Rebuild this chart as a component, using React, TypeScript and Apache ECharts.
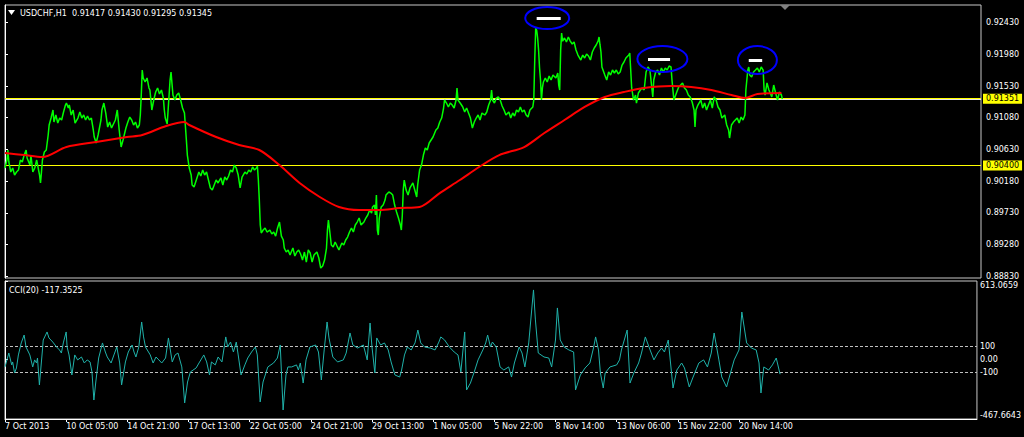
import React, { useEffect, useRef } from 'react';
import * as echarts from 'echarts';

// ---------- texts ----------
const symbolName = 'USDCHF,H1';
const ohlcValues = ['0.91417', '0.91430', '0.91295', '0.91345'];
const cciTitle = 'CCI(20) -117.3525';

// ---------- axes ----------
const timeTickBars = [0, 64, 128, 192, 256, 320, 384, 448, 512, 576, 640, 704, 768];
const timeTickLabels = ['7 Oct 2013', '10 Oct 05:00', '14 Oct 21:00', '17 Oct 13:00', '22 Oct 05:00', '24 Oct 21:00', '29 Oct 13:00', '1 Nov 05:00', '5 Nov 22:00', '8 Nov 14:00', '13 Nov 06:00', '15 Nov 22:00', '20 Nov 14:00'];
const barRange = [0, 1017];
const priceRange = [0.88803, 0.92682];
const priceTicks = [0.8883, 0.8928, 0.8973, 0.9018, 0.9063, 0.9108, 0.9153, 0.9198, 0.9243];
const cciRange = [-467.6643, 613.0659];
const cciTicks = [-467.6643, -100, 0, 100, 613.0659];
const cciTickLabels = ['-467.6643', '-100', '0.00', '100', '613.0659'];

// ---------- levels ----------
const yellowLevels = [0.91351, 0.904];
const bidPrice = 0.91345;
const cciLevels = [100, -100];

// ---------- series: [bar index, close] ----------
const closes: [number, number][] = [
  [0,0.90366],[2,0.90479],[3,0.90622],[4,0.90451],[6,0.90309],[8,0.90366],[10,0.90266],[12,0.90309],[14,0.90337],[16,0.90479],[18,0.90451],[20,0.90550],[22,0.90622],[23,0.90508],[26,0.90408],[27,0.90550],[29,0.90309],[31,0.90366],[33,0.90479],[35,0.90337],[36,0.90266],[37,0.90153],[38,0.90309],[39,0.90479],[41,0.90593],[43,0.90622],[45,0.90835],[46,0.90977],[48,0.91076],[50,0.91190],[51,0.91019],[53,0.91119],[55,0.91005],[57,0.91076],[59,0.91048],[61,0.91162],[63,0.91261],[64,0.91289],[66,0.91218],[67,0.91261],[69,0.91119],[71,0.91190],[73,0.91005],[76,0.91076],[78,0.91162],[80,0.91076],[82,0.91119],[84,0.91048],[86,0.91105],[88,0.91048],[90,0.91076],[92,0.90906],[93,0.90806],[95,0.90721],[97,0.90835],[100,0.91048],[101,0.91190],[103,0.91289],[105,0.91147],[107,0.90948],[109,0.91019],[111,0.90934],[113,0.90991],[115,0.91048],[117,0.91190],[119,0.90906],[121,0.90664],[123,0.90764],[126,0.90934],[128,0.91019],[130,0.91090],[132,0.91048],[134,0.90977],[136,0.91019],[138,0.90934],[140,0.90977],[141,0.91119],[142,0.91403],[143,0.91758],[144,0.91645],[146,0.91588],[148,0.91645],[150,0.91503],[151,0.91474],[153,0.91190],[155,0.91332],[157,0.91446],[159,0.91503],[161,0.91417],[163,0.91474],[165,0.91360],[166,0.91190],[167,0.91076],[169,0.90991],[171,0.91403],[172,0.91616],[173,0.91730],[175,0.91403],[177,0.91332],[179,0.91403],[181,0.91432],[183,0.91332],[185,0.91218],[187,0.91147],[189,0.90764],[190,0.90550],[192,0.90366],[194,0.90266],[195,0.90124],[197,0.90096],[200,0.90224],[202,0.90309],[204,0.90252],[206,0.90337],[208,0.90266],[210,0.90309],[212,0.90195],[214,0.90082],[216,0.90053],[218,0.90124],[220,0.90195],[222,0.90153],[225,0.90224],[227,0.90124],[229,0.90238],[231,0.90195],[233,0.90252],[235,0.90337],[237,0.90309],[239,0.90408],[241,0.90366],[243,0.90266],[245,0.90082],[247,0.90238],[250,0.90309],[252,0.90280],[254,0.90337],[256,0.90309],[258,0.90380],[260,0.90337],[262,0.90366],[263,0.90394],[264,0.90195],[265,0.89911],[266,0.89556],[267,0.89442],[269,0.89485],[271,0.89513],[273,0.89456],[276,0.89485],[278,0.89428],[280,0.89456],[282,0.89399],[284,0.89513],[286,0.89598],[288,0.89399],[290,0.89343],[291,0.89229],[293,0.89172],[295,0.89201],[297,0.89129],[300,0.89229],[302,0.89115],[304,0.89172],[306,0.89201],[308,0.89144],[310,0.89058],[312,0.89172],[314,0.89030],[316,0.89201],[318,0.89158],[320,0.89030],[322,0.89129],[325,0.89172],[327,0.89087],[329,0.88945],[331,0.88973],[333,0.89058],[335,0.89229],[336,0.89485],[337,0.89627],[338,0.89513],[340,0.89272],[342,0.89243],[344,0.89314],[346,0.89257],[348,0.89201],[351,0.89300],[353,0.89272],[355,0.89343],[357,0.89385],[359,0.89456],[361,0.89513],[363,0.89456],[365,0.89556],[367,0.89598],[369,0.89655],[371,0.89556],[374,0.89598],[376,0.89655],[378,0.89698],[380,0.89769],[382,0.89726],[383,0.89812],[385,0.89840],[386,0.89698],[387,0.89982],[388,0.89485],[389,0.89414],[390,0.89655],[392,0.89812],[394,0.89840],[396,0.89911],[397,0.89982],[400,0.90025],[402,0.90010],[404,0.89982],[406,0.89840],[408,0.89741],[410,0.89655],[412,0.89556],[413,0.89485],[414,0.89698],[415,0.90053],[416,0.90195],[418,0.90053],[420,0.89982],[422,0.90082],[425,0.90153],[427,0.90053],[429,0.89954],[430,0.90124],[432,0.90337],[434,0.90408],[436,0.90550],[438,0.90650],[440,0.90622],[442,0.90721],[444,0.90764],[446,0.90806],[449,0.90906],[451,0.90934],[453,0.91019],[455,0.91076],[457,0.91218],[458,0.91332],[460,0.91289],[462,0.91233],[464,0.91289],[466,0.91261],[468,0.91218],[470,0.91332],[471,0.91503],[472,0.91332],[475,0.91275],[477,0.91233],[479,0.91162],[481,0.91218],[483,0.91147],[485,0.91076],[487,0.90934],[489,0.91019],[491,0.91076],[493,0.91119],[495,0.91048],[497,0.91147],[500,0.91119],[502,0.91162],[504,0.91261],[506,0.91332],[507,0.91474],[508,0.91332],[510,0.91289],[512,0.91360],[514,0.91375],[516,0.91332],[518,0.91247],[520,0.91190],[522,0.91119],[525,0.91162],[527,0.91076],[529,0.91147],[531,0.91105],[533,0.91190],[535,0.91162],[537,0.91233],[539,0.91162],[541,0.91190],[543,0.91119],[545,0.91090],[547,0.91190],[550,0.91233],[551,0.91332],[552,0.91900],[553,0.92355],[554,0.92327],[555,0.92213],[556,0.92043],[557,0.91787],[558,0.91616],[559,0.91332],[560,0.91503],[561,0.91588],[563,0.91645],[565,0.91588],[567,0.91673],[569,0.91616],[571,0.91687],[574,0.91645],[576,0.91716],[577,0.91545],[578,0.91474],[579,0.92043],[580,0.92284],[581,0.92169],[583,0.92213],[585,0.92156],[587,0.92227],[589,0.92169],[591,0.92128],[593,0.92156],[595,0.92043],[597,0.91971],[600,0.91900],[602,0.91971],[604,0.91929],[606,0.91986],[608,0.91957],[610,0.91900],[612,0.92014],[614,0.92071],[616,0.92114],[618,0.92169],[619,0.92227],[620,0.92114],[621,0.92014],[622,0.91801],[625,0.91687],[627,0.91616],[629,0.91730],[631,0.91687],[633,0.91758],[635,0.91716],[637,0.91758],[639,0.91702],[641,0.91730],[643,0.91829],[645,0.91872],[647,0.91929],[650,0.91971],[651,0.92000],[652,0.91758],[653,0.91503],[655,0.91332],[657,0.91403],[658,0.91289],[660,0.91432],[662,0.91474],[664,0.91503],[666,0.91474],[668,0.91730],[670,0.91801],[672,0.91758],[675,0.91375],[676,0.91616],[678,0.91730],[680,0.91758],[682,0.91687],[684,0.91787],[686,0.91730],[688,0.91787],[690,0.91758],[692,0.91815],[694,0.91801],[695,0.91616],[697,0.91332],[700,0.91446],[702,0.91517],[704,0.91545],[706,0.91574],[708,0.91503],[710,0.91474],[712,0.91403],[714,0.91375],[716,0.91304],[718,0.91190],[719,0.90948],[720,0.91190],[722,0.91261],[725,0.91332],[727,0.91218],[729,0.91289],[731,0.91190],[733,0.91261],[735,0.91332],[737,0.91218],[739,0.91375],[741,0.91332],[743,0.91233],[745,0.91190],[747,0.91076],[750,0.91119],[752,0.90977],[754,0.90906],[755,0.90792],[757,0.90977],[759,0.91019],[761,0.91048],[763,0.91076],[765,0.91005],[767,0.91090],[769,0.91048],[771,0.91119],[772,0.91474],[774,0.91758],[775,0.91801],[776,0.91687],[778,0.91659],[780,0.91730],[782,0.91758],[784,0.91787],[786,0.91730],[788,0.91801],[790,0.91758],[791,0.91474],[792,0.91403],[794,0.91574],[796,0.91474],[799,0.91375],[801,0.91545],[803,0.91432],[805,0.91332],[807,0.91446],[809,0.91403],[810,0.91345]
];

const movingAverage: [number, number][] = [
  [0,0.90579],[20,0.90550],[39,0.90522],[64,0.90664],[95,0.90735],[127,0.90806],[143,0.90835],[168,0.90963],[187,0.91019],[192,0.90977],[220,0.90806],[244,0.90693],[265,0.90622],[286,0.90408],[307,0.90153],[328,0.89954],[348,0.89812],[369,0.89769],[390,0.89769],[411,0.89797],[432,0.89812],[453,0.90010],[474,0.90195],[494,0.90380],[515,0.90550],[541,0.90664],[562,0.90863],[583,0.91048],[604,0.91233],[625,0.91375],[645,0.91446],[666,0.91503],[694,0.91531],[715,0.91517],[736,0.91474],[757,0.91403],[771,0.91360],[784,0.91417],[809,0.91432]
];

const cciValues: [number, number][] = [
  [0,-60],[4,49],[7,-44],[8,-21],[10,-107],[12,-68],[14,34],[17,128],[20,190],[22,96],[26,34],[29,-60],[31,-5],[33,-29],[34,10],[36,-201],[39,57],[40,151],[44,214],[46,167],[50,135],[54,96],[57,73],[59,49],[61,128],[64,214],[65,96],[67,34],[70,-123],[73,34],[76,-5],[80,18],[83,-29],[86,-5],[89,-21],[91,-99],[93,-319],[95,-178],[98,10],[102,128],[105,57],[107,18],[111,-29],[114,34],[117,96],[120,-29],[122,-201],[126,-21],[129,57],[133,112],[135,57],[137,18],[140,96],[143,292],[145,175],[147,96],[152,34],[155,-29],[158,18],[161,-5],[164,-29],[168,10],[171,167],[175,-21],[178,34],[181,49],[185,-60],[188,-342],[191,-178],[194,-99],[200,-68],[203,-29],[208,34],[211,-21],[214,-123],[216,-21],[220,-44],[223,18],[227,-21],[231,175],[233,96],[236,135],[239,57],[242,135],[244,34],[247,-123],[251,-44],[254,10],[258,57],[262,96],[264,34],[267,-334],[270,-178],[275,-60],[281,-29],[285,10],[288,112],[291,-397],[294,-123],[296,-60],[300,-60],[305,-44],[307,-84],[309,-29],[312,-186],[315,-5],[319,96],[325,112],[328,57],[331,-162],[334,73],[337,292],[339,167],[343,18],[348,-21],[354,-5],[357,49],[361,206],[364,112],[369,88],[375,112],[379,-5],[382,284],[384,96],[387,-107],[389,167],[393,112],[397,128],[401,73],[404,-21],[408,-123],[413,-139],[415,-84],[418,34],[421,96],[425,73],[429,128],[432,229],[435,128],[439,96],[445,88],[450,73],[454,135],[456,175],[460,151],[465,96],[470,57],[474,34],[477,-99],[481,214],[483,-240],[487,-186],[491,-99],[495,-5],[500,73],[503,128],[505,190],[508,96],[510,135],[514,96],[518,-60],[522,-84],[527,-60],[530,-139],[533,-29],[538,96],[541,49],[544,-60],[548,128],[553,543],[555,308],[558,49],[564,18],[569,10],[572,-60],[576,151],[578,402],[581,151],[585,96],[590,73],[595,57],[597,-240],[602,-123],[607,-68],[612,-29],[616,96],[618,175],[621,73],[623,-107],[626,-225],[628,-107],[633,-60],[640,-44],[643,-5],[645,73],[651,229],[654,-186],[658,-107],[663,-29],[666,49],[670,175],[675,73],[679,-5],[683,49],[687,88],[690,57],[694,151],[699,-225],[703,-84],[708,-29],[711,-68],[716,-217],[720,-139],[726,-29],[731,-5],[735,-60],[739,49],[742,206],[747,-5],[750,-139],[755,-217],[760,-84],[763,-5],[768,73],[771,370],[776,128],[781,88],[786,73],[789,-29],[791,-264],[794,-60],[799,-84],[803,-44],[807,10],[811,-117]
];

// ---------- annotations (drawn objects) ----------
const peakLines = [
  { from: 554, to: 579, price: 0.9249 },
  { from: 670, to: 693, price: 0.91915 },
  { from: 775, to: 789, price: 0.919 },
];
const peakCircles = [
  { bar: 565, price: 0.92497 },
  { bar: 685, price: 0.91915 },
  { bar: 784, price: 0.919 },
];
const circleRadii = [[22, 11], [25, 13], [19.5, 14]];

const FONT = 'DejaVu Sans';

export default function App() {
  const ref = useRef<HTMLDivElement>(null);

  useEffect(() => {
    document.body.style.margin = '0';
    const chart = echarts.init(ref.current as HTMLDivElement, null, { renderer: 'svg' });

    const option: any = {
      animation: false,
      backgroundColor: '#000000',
      grid: [
        { left: 5, top: 5, width: 976, height: 273, show: true, borderColor: '#c8c8c8', borderWidth: 1, backgroundColor: 'transparent' },
        { left: 5, top: 281, width: 976, height: 138, show: true, borderColor: '#c8c8c8', borderWidth: 1, backgroundColor: 'transparent' },
      ],
      xAxis: [
        { type: 'value', gridIndex: 0, min: barRange[0], max: barRange[1], show: false },
        {
          type: 'value', gridIndex: 1, min: barRange[0], max: barRange[1],
          axisLine: { show: true, onZero: false, lineStyle: { color: '#ffffff' } },
          axisTick: { show: true, length: 3, customValues: timeTickBars, lineStyle: { color: '#ffffff' } },
          axisLabel: {
            customValues: timeTickBars,
            formatter: (v: number) => timeTickLabels[timeTickBars.indexOf(v)] ?? '',
            color: '#ffffff', fontSize: 8, fontFamily: FONT, align: 'left', margin: 3,
          },
          splitLine: { show: false },
        },
      ],
      yAxis: [
        {
          type: 'value', gridIndex: 0, position: 'right', min: priceRange[0], max: priceRange[1],
          axisLine: { show: true, lineStyle: { color: '#ffffff' } },
          axisTick: { show: true, length: 3, customValues: priceTicks, lineStyle: { color: '#ffffff' } },
          axisLabel: {
            customValues: priceTicks,
            formatter: (v: number) => v.toFixed(5),
            color: '#ffffff', fontSize: 8, fontFamily: FONT, margin: 5,
          },
          splitLine: { show: false },
        },
        {
          type: 'value', gridIndex: 1, position: 'right', min: cciRange[0], max: cciRange[1],
          axisLine: { show: true, lineStyle: { color: '#ffffff' } },
          axisTick: { show: true, length: 3, customValues: cciTicks, lineStyle: { color: '#ffffff' } },
          axisLabel: {
            customValues: cciTicks,
            formatter: (v: number) => cciTickLabels[cciTicks.indexOf(v)] ?? '',
            color: '#ffffff', fontSize: 8, fontFamily: FONT, margin: 3,
            verticalAlignMaxLabel: 'top', verticalAlignMinLabel: 'bottom',
          },
          splitLine: { show: false },
        },
      ],
      series: [
        {
          // invisible carrier of the horizontal level lines (drawn under the price line)
          type: 'line', xAxisIndex: 0, yAxisIndex: 0, data: closes, showSymbol: false, silent: true,
          lineStyle: { opacity: 0 }, z: 1,
          markLine: {
            silent: true, symbol: 'none', animation: false, z: 1, precision: 5,
            data: [
              ...yellowLevels.map((lv) => ({
                yAxis: lv,
                lineStyle: { color: '#ffff00', width: 1, type: 'solid' },
                label: {
                  show: true, position: 'end', distance: 2,
                  formatter: () => lv.toFixed(5),
                  color: '#000000', backgroundColor: '#ffff00', padding: [1, 3, 1, 3],
                  fontSize: 8, fontFamily: FONT,
                },
              })),
              { yAxis: bidPrice, lineStyle: { color: '#e6e6e6', width: 1, type: 'solid' }, label: { show: false } },
            ],
          },
        },
        {
          type: 'line', xAxisIndex: 0, yAxisIndex: 0, data: closes, showSymbol: false, silent: true, z: 3,
          lineStyle: { color: '#00ff00', width: 1.5 },
        },
        {
          type: 'line', xAxisIndex: 0, yAxisIndex: 0, data: movingAverage, showSymbol: false, silent: true, z: 4,
          smooth: 0.3,
          lineStyle: { color: '#ff0000', width: 2 },
        },
        {
          type: 'line', xAxisIndex: 0, yAxisIndex: 0, data: closes, showSymbol: false, silent: true, z: 5,
          lineStyle: { opacity: 0 },
          markLine: {
            silent: true, symbol: 'none', animation: false, z: 6, precision: 5,
            lineStyle: { color: '#ffffff', width: 3, type: 'solid' },
            label: { show: false },
            data: peakLines.map((l) => [{ coord: [l.from, l.price] }, { coord: [l.to, l.price] }]),
          },
        },
        {
          type: 'line', xAxisIndex: 1, yAxisIndex: 1, data: cciValues, showSymbol: false, silent: true, z: 1,
          lineStyle: { opacity: 0 },
          markLine: {
            silent: true, symbol: 'none', animation: false, z: 1,
            lineStyle: { color: '#c0c0c0', width: 1, type: [3, 2] },
            label: { show: false },
            data: cciLevels.map((v) => ({ yAxis: v })),
          },
        },
        {
          type: 'line', xAxisIndex: 1, yAxisIndex: 1, data: cciValues, showSymbol: false, silent: true, z: 3,
          lineStyle: { color: '#20b2aa', width: 1 },
        },
      ],
    };

    chart.setOption(option);

    const ellipses = peakCircles.map((c, i) => {
      const p = chart.convertToPixel({ gridIndex: 0 }, [c.bar, c.price]) as number[];
      return {
        type: 'ellipse', silent: true, z: 20,
        shape: { cx: p[0], cy: p[1], rx: circleRadii[i][0], ry: circleRadii[i][1] },
        style: { fill: 'none', stroke: '#0000ff', lineWidth: 2 },
      };
    });

    chart.setOption({
      graphic: [
        { type: 'polygon', silent: true, z: 20, shape: { points: [[8, 10], [15, 10], [11.5, 15]] }, style: { fill: '#ffffff' } },
        {
          type: 'text', silent: true, z: 20, x: 20, y: 13,
          style: { text: `${symbolName}  ${ohlcValues.join(' ')}`, fill: '#ffffff', font: `8px "${FONT}"`, verticalAlign: 'middle' },
        },
        {
          type: 'text', silent: true, z: 20, x: 9, y: 290,
          style: { text: cciTitle, fill: '#ffffff', font: `8px "${FONT}"`, verticalAlign: 'middle' },
        },
        { type: 'polygon', silent: true, z: 20, shape: { points: [[780, 5], [790, 5], [785, 10]] }, style: { fill: '#808080' } },
        ...ellipses,
      ],
    });

    return () => chart.dispose();
  }, []);

  return (
    <div
      ref={ref}
      style={{ position: 'absolute', left: 0, top: 0, width: 1024, height: 437, background: '#000000' }}
    />
  );
}
